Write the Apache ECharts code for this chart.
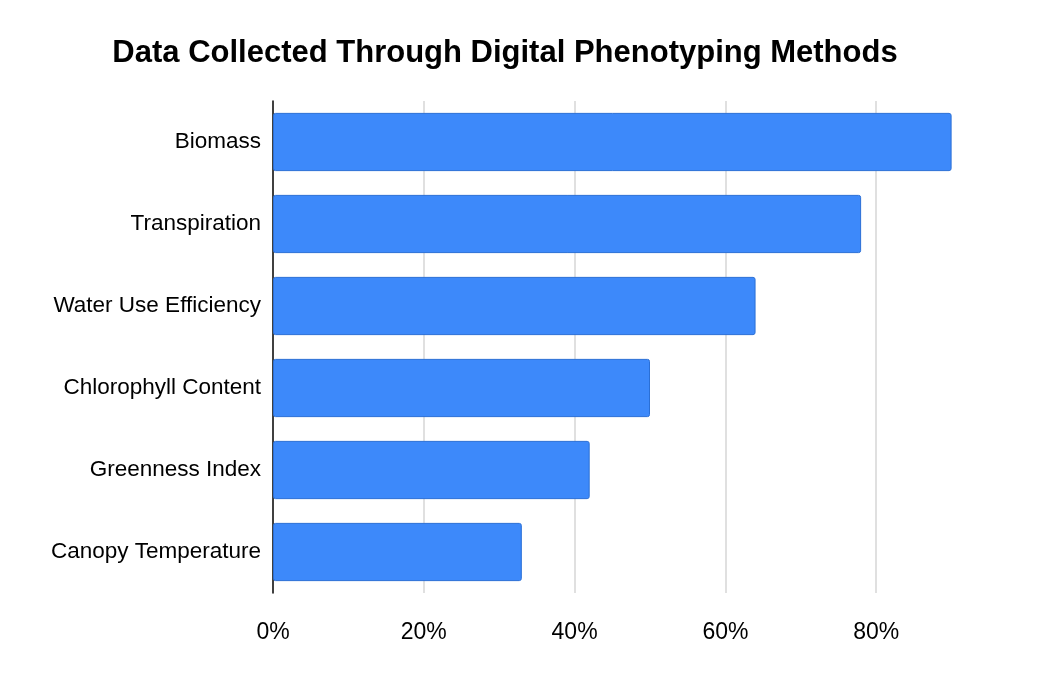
<!DOCTYPE html>
<html><head><meta charset="utf-8">
<script src="https://cdn.jsdelivr.net/npm/echarts@6/dist/echarts.min.js"></script>
<style>html,body{margin:0;padding:0;background:#fff}#c{width:1056px;height:674px}</style>
</head><body><div id="c"></div>
<script>
const categories = ["Canopy Temperature","Greenness Index","Chlorophyll Content","Water Use Efficiency","Transpiration","Biomass"];
const values = [33, 42, 50, 64, 78, 90];
const gridTicks = [20, 40, 60, 80];
const chart = echarts.init(document.getElementById('c'));
chart.setOption({
  animation:false,
  title:{text:"Data Collected Through Digital Phenotyping Methods",left:500,top:33,textAlign:'center',
    textStyle:{fontFamily:'Liberation Sans, Arial',fontWeight:'bold',fontSize:31,color:'#000'}},
  grid:{left:273,right:29,top:101,bottom:81},
  xAxis:{type:'value',min:0,max:100,interval:20,
    axisLine:{show:false},axisTick:{show:false},splitLine:{show:false},
    axisLabel:{showMaxLabel:false,formatter:'{value}%',margin:28,fontSize:23,color:'#000',fontFamily:'Liberation Sans, Arial'}},
  yAxis:{type:'category',data:categories,
    axisLine:{show:true,lineStyle:{color:'#000',width:1.5}},axisTick:{show:false},
    axisLabel:{fontSize:22.5,color:'#000',margin:12,fontFamily:'Liberation Sans, Arial'}},
  series:[{type:'bar',data:values,barCategoryGap:'29%',
    itemStyle:{color:'#3d89fa',borderColor:'#2a6fd6',borderWidth:1,borderRadius:2},
    markLine:{silent:true,symbol:'none',label:{show:false},z:0,
      lineStyle:{color:'#d6d6d6',type:'solid',width:1.5},
      data:gridTicks.map(v=>({xAxis:v}))}}]
});
</script></body></html>
